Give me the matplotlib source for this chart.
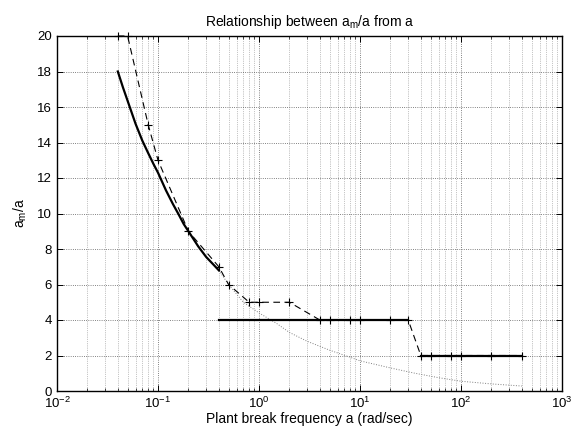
import numpy as np
import matplotlib
matplotlib.use('Agg')
import matplotlib.pyplot as plt
from matplotlib.ticker import LogLocator, NullFormatter

plt.rcParams['font.family'] = ['Liberation Sans', 'DejaVu Sans']
plt.rcParams['mathtext.fontset'] = 'custom'
plt.rcParams['mathtext.rm'] = 'Liberation Sans'
plt.rcParams['mathtext.it'] = 'Liberation Sans:italic'

# solid curve, then the two flat pieces
curve_a = [0.04, 0.045, 0.05, 0.06, 0.07, 0.08, 0.09, 0.1, 0.12, 0.14, 0.16,
           0.18, 0.2, 0.25, 0.3, 0.35, 0.4]
curve_r = [18.0, 17.1, 16.35, 15.05, 14.1, 13.4, 12.8, 12.3, 11.3, 10.55, 9.95,
           9.4, 9.0, 8.15, 7.55, 7.15, 6.8]
flat1_a = [0.4, 30]
flat1_r = [4, 4]
flat2_a = [40, 400]
flat2_r = [2, 2]

# dashed line with + markers
dash_a = [0.04, 0.05, 0.08, 0.1, 0.2, 0.4, 0.5, 0.8, 1, 2, 4, 5, 8, 10, 20, 30,
          40, 50, 80, 100, 200, 400]
dash_r = [20, 20, 15, 13, 9, 7, 6, 5, 5, 5, 4, 4, 4, 4, 4, 4,
          2, 2, 2, 2, 2, 2]

# dotted continuation of the curve
dot_a = [0.4, 0.5, 0.7, 1, 1.5, 2, 3, 5, 8, 10, 20, 35, 60, 100, 200, 400]
dot_r = [6.8, 6.0, 5.0, 4.4, 3.8, 3.3, 2.8, 2.3, 1.9, 1.7, 1.3, 1.0, 0.75, 0.55, 0.4, 0.28]

fig = plt.figure(figsize=(5.78, 4.30), dpi=100)
ax = fig.add_axes([57/578, 1 - 391/430, (562 - 57)/578, (391 - 36)/430])

ax.plot(dot_a, dot_r, linestyle=':', color='0.5', linewidth=0.7)
ax.plot(dash_a, dash_r, linestyle=(0, (6, 4)), color='k', linewidth=0.8,
        marker='+', markersize=6, markeredgewidth=0.8, clip_on=False)
ax.plot(curve_a, curve_r, '-', color='k', linewidth=1.6)
ax.plot(flat1_a, flat1_r, '-', color='k', linewidth=1.6)
ax.plot(flat2_a, flat2_r, '-', color='k', linewidth=1.6)

ax.set_xscale('log')
ax.set_xlim(1e-2, 1e3)
ax.set_ylim(0, 20)
ax.set_yticks(range(0, 21, 2))
ax.xaxis.set_major_locator(LogLocator(base=10, numticks=10))
ax.xaxis.set_minor_locator(LogLocator(base=10, subs=np.arange(2, 10), numticks=20))
ax.xaxis.set_minor_formatter(NullFormatter())

ax.grid(True, which='major', linestyle=':', color='0.35', linewidth=0.6)
ax.grid(True, which='minor', axis='x', linestyle=':', color='0.55', linewidth=0.5)
ax.tick_params(which='both', direction='in', top=True, right=True, labelsize=9.5)
ax.tick_params(which='major', length=4, width=0.7)
ax.tick_params(which='minor', length=2, width=0.5)
for s in ax.spines.values():
    s.set_linewidth(1.0)

ax.set_title('Relationship between a$_{\\mathregular{m}}$/a from a', fontsize=10, pad=7)
ax.set_xlabel('Plant break frequency a (rad/sec)', fontsize=10, labelpad=1)
ax.set_ylabel('a$_{\\mathregular{m}}$/a', fontsize=10, labelpad=6)

fig.savefig('out.png', dpi=100)
